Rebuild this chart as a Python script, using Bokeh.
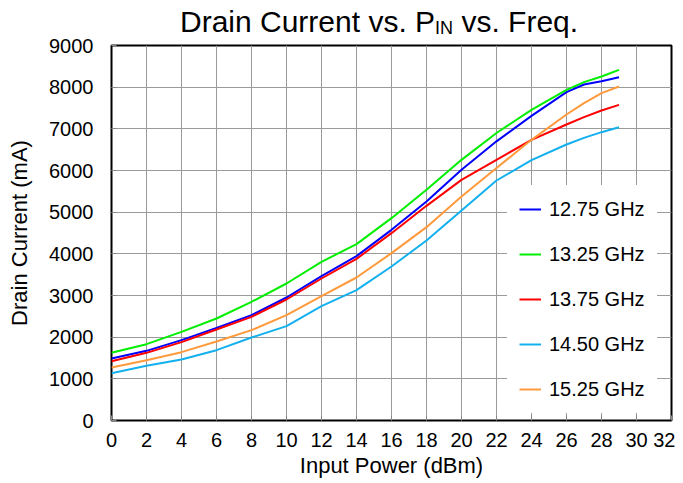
from bokeh.plotting import figure
from bokeh.models import FixedTicker, Div
from bokeh.layouts import column
from bokeh.embed import file_html
from bokeh.resources import INLINE

FONT = "Liberation Sans"

# Input power (dBm)
pin = [0, 2, 4, 6, 8, 10, 12, 14, 16, 18, 20, 22, 24, 26, 27, 28, 29]

# Drain current (mA) per frequency
i_1275 = [1488, 1672, 1928, 2224, 2528, 2952, 3464, 3944, 4576, 5256, 6016, 6700, 7310, 7880, 8064, 8144, 8240]
i_1325 = [1624, 1832, 2128, 2448, 2848, 3288, 3808, 4232, 4856, 5536, 6256, 6900, 7456, 7936, 8120, 8256, 8416]
i_1375 = [1424, 1624, 1880, 2184, 2488, 2904, 3408, 3880, 4496, 5152, 5776, 6256, 6736, 7104, 7280, 7440, 7576]
i_1450 = [1136, 1312, 1464, 1688, 1992, 2264, 2744, 3128, 3696, 4320, 5040, 5760, 6250, 6624, 6784, 6920, 7040]
i_1525 = [1272, 1448, 1640, 1896, 2168, 2528, 2984, 3432, 4016, 4640, 5376, 6060, 6736, 7344, 7616, 7856, 8016]

series = [
    ("12.75 GHz", i_1275, "#0000FF"),
    ("13.25 GHz", i_1325, "#00EE00"),
    ("13.75 GHz", i_1375, "#FF0000"),
    ("14.50 GHz", i_1450, "#12B0EE"),
    ("15.25 GHz", i_1525, "#FF9A3C"),
]

title_parts = ["Drain Current vs. P", "IN", " vs. Freq."]

x_ticks = list(range(0, 33, 2))
y_ticks = list(range(0, 9001, 1000))

W = 675
TH = 33

# ---- title (HTML so the subscript is real text) ----
title_html = (
    '<div style="font-family:\'Liberation Sans\',Arial,sans-serif;font-size:30px;line-height:30px;'
    'padding-left:180px;padding-top:7px;white-space:nowrap;color:black;margin:0;overflow:visible;">'
    + title_parts[0]
    + '<span style="font-size:18px;position:relative;top:2px;">' + title_parts[1] + '</span>'
    + title_parts[2] + '</div>'
)
t = Div(text=title_html, width=W, height=TH, margin=0, styles={"overflow": "visible"})

# ---- main chart ----
p = figure(frame_width=560, frame_height=375, output_backend="svg", toolbar_location=None,
           title=None, x_range=(0, 32), y_range=(0, 9000),
           min_border_left=111, min_border_right=4, min_border_top=45 - TH, min_border_bottom=61)
p.border_fill_alpha = 0

for name, ys, col in series:
    p.line(pin, ys, line_color=col, line_width=2, legend_label=name)

p.background_fill_color = "white"
p.outline_line_color = "black"
p.outline_line_width = 2

for ax in (p.xaxis[0], p.yaxis[0]):
    ax.axis_line_color = None
    ax.major_tick_in = 5
    ax.major_tick_out = 0
    ax.major_tick_line_color = "#888888"
    ax.minor_tick_line_color = None
    ax.major_label_text_font = FONT
    ax.major_label_text_font_size = "20px"
    ax.major_label_text_color = "black"
    ax.axis_label_text_font = FONT
    ax.axis_label_text_font_size = "22px"
    ax.axis_label_text_font_style = "normal"
    ax.axis_label_text_color = "black"

p.xaxis.ticker = FixedTicker(ticks=x_ticks)
p.yaxis.ticker = FixedTicker(ticks=y_ticks)
p.xaxis.axis_label = "Input Power (dBm)"
p.yaxis.axis_label = "Drain Current (mA)"
p.xaxis.major_label_standoff = 12
p.xaxis.axis_label_standoff = 3
p.yaxis.major_label_standoff = 18
p.yaxis.axis_label_standoff = 14

p.xgrid.ticker = FixedTicker(ticks=x_ticks)
p.ygrid.ticker = FixedTicker(ticks=y_ticks)
p.grid.grid_line_color = "#9a9a9a"
p.grid.grid_line_width = 1

lg = p.legend[0]
lg.location = (396, 7)
lg.border_line_alpha = 0
lg.background_fill_color = "white"
lg.background_fill_alpha = 1
lg.label_text_font = FONT
lg.label_text_font_size = "20px"
lg.label_text_color = "black"
lg.glyph_width = 22
lg.glyph_height = 24
lg.label_height = 24
lg.spacing = 21
lg.padding = 12
lg.margin = 0
lg.label_standoff = 8

layout = column(t, p, spacing=0)
open("out.html", "w").write(file_html(layout, INLINE))
